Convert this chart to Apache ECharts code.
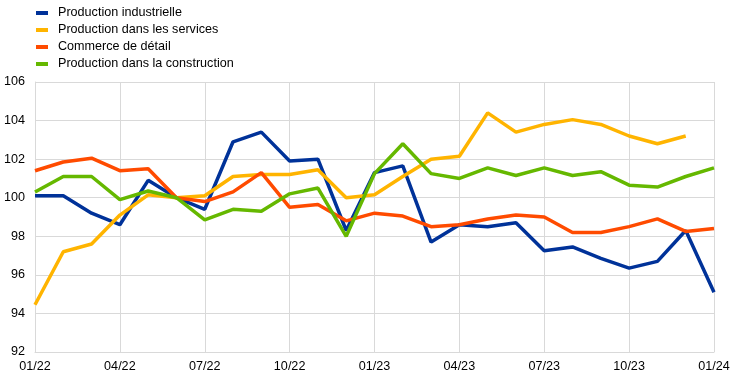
<!DOCTYPE html>
<html>
<head>
<meta charset="utf-8">
<script src="https://cdn.jsdelivr.net/npm/echarts@6/dist/echarts.min.js"></script>
<style>
  html, body { margin: 0; padding: 0; background: #fff; }
  #chart { width: 743px; height: 377px; }
</style>
</head>
<body>
<div id="chart"></div>
<script>
// monthly categories 01/22 .. 01/24
const months = [
  '01/22', '02/22', '03/22', '04/22', '05/22', '06/22', '07/22', '08/22', '09/22', '10/22', '11/22', '12/22',
  '01/23', '02/23', '03/23', '04/23', '05/23', '06/23', '07/23', '08/23', '09/23', '10/23', '11/23', '12/23',
  '01/24'
];

const industrie = [100.1, 100.1, 99.2, 98.6, 100.9, 100.0, 99.4, 102.9, 103.4, 101.9, 102.0, 98.3,
  101.3, 101.65, 97.7, 98.6, 98.5, 98.7, 97.25, 97.45, 96.85, 96.35, 96.7, 98.3, 95.1];
const services = [94.45, 97.2, 97.6, 99.1, 100.15, 100.0, 100.1, 101.1, 101.2, 101.2, 101.45, 100.0,
  100.15, 101.1, 102.0, 102.15, 104.4, 103.4, 103.8, 104.05, 103.8, 103.2, 102.8, 103.2, null];
const commerce = [101.4, 101.85, 102.05, 101.4, 101.5, 100.0, 99.8, 100.3, 101.3, 99.5, 99.65, 98.8,
  99.2, 99.05, 98.5, 98.6, 98.9, 99.1, 99.0, 98.2, 98.2, 98.5, 98.9, 98.25, 98.4];
const construction = [100.3, 101.1, 101.1, 99.9, 100.35, 100.0, 98.85, 99.4, 99.3, 100.2, 100.5, 98.0,
  101.25, 102.8, 101.25, 101.0, 101.55, 101.15, 101.55, 101.15, 101.35, 100.65, 100.55, 101.1, 101.55];

const names = ['Production industrielle', 'Production dans les services', 'Commerce de détail', 'Production dans la construction'];
const colors = ['#003299', '#ffb400', '#ff4b00', '#65b800'];

const chart = echarts.init(document.getElementById('chart'));

const mkSeries = (name, data, color) => ({
  name: name,
  type: 'line',
  data: data,
  symbol: 'none',
  connectNulls: false,
  lineStyle: { width: 3.5, color: color },
  itemStyle: { color: color }
});

chart.setOption({
  animation: false,
  textStyle: { fontFamily: 'Liberation Sans, Arial, sans-serif' },
  legend: {
    orient: 'vertical',
    left: 31,
    top: 1,
    itemWidth: 12,
    itemHeight: 4,
    itemGap: 3,
    icon: 'rect',
    textStyle: { fontSize: 12.6, lineHeight: 14, color: '#000', padding: [0, 0, 0, 5] },
    data: names
  },
  grid: { left: 35, right: 29, top: 82, bottom: 25 },
  xAxis: {
    type: 'category',
    data: months,
    boundaryGap: false,
    axisLine: { lineStyle: { color: '#d9d9d9' } },
    axisTick: { show: false },
    axisLabel: { interval: 2, color: '#000', fontSize: 12.6, margin: 8 },
    splitLine: { show: true, interval: 2, lineStyle: { color: '#d9d9d9', width: 1 } }
  },
  yAxis: {
    type: 'value',
    min: 92,
    max: 106,
    interval: 2,
    axisLine: { show: true, lineStyle: { color: '#d9d9d9' } },
    axisTick: { show: false },
    axisLabel: { color: '#000', fontSize: 12.6, margin: 10 },
    splitLine: { lineStyle: { color: '#d9d9d9', width: 1 } }
  },
  series: [
    mkSeries(names[0], industrie, colors[0]),
    mkSeries(names[1], services, colors[1]),
    mkSeries(names[2], commerce, colors[2]),
    mkSeries(names[3], construction, colors[3])
  ]
});
</script>
</body>
</html>
